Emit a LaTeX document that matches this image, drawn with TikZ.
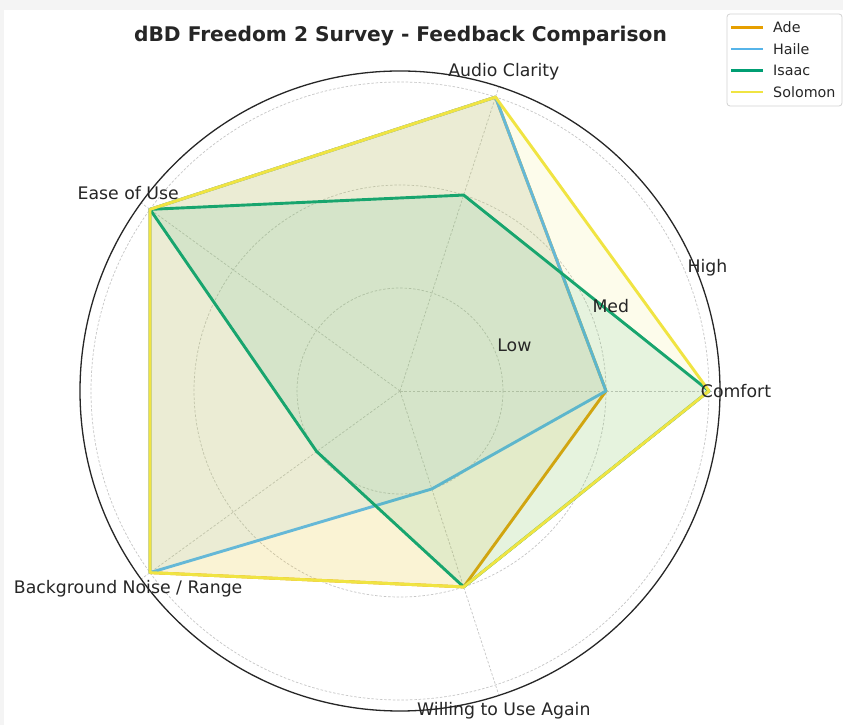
\documentclass[tikz,border=0pt]{standalone}
\usepackage{fontspec}
\setmainfont{DejaVu Sans}
\definecolor{ade}{HTML}{E69F00}
\definecolor{haile}{HTML}{56B4E9}
\definecolor{isaac}{HTML}{009E73}
\definecolor{solomon}{HTML}{F0E442}
\definecolor{txt}{HTML}{262626}
\tikzset{
  gridline/.style={draw=gray!45, line width=0.7pt, dash pattern=on 2.5pt off 1.8pt},
  series/.style={draw=#1, fill=#1, fill opacity=0.1, draw opacity=1, line width=2.9pt, line join=round},
  axislabel/.style={font=\fontsize{17.3}{20}\selectfont, text=txt, anchor=center, inner sep=0pt},
  rlabel/.style={font=\fontsize{17.3}{20}\selectfont, text=txt, anchor=base west, inner sep=0pt},
  legtext/.style={font=\fontsize{14.3}{16}\selectfont, text=txt, anchor=west, inner sep=0pt},
  legline/.style={draw=#1, line width=2.6pt}
}
\begin{document}
\begin{tikzpicture}[x=1pt,y=1pt]
\useasboundingbox (0,0) rectangle (843,725);
\fill[white] (0,0) rectangle (843,725);
\fill[gray!9] (0,715) rectangle (843,725);
\fill[gray!9] (0,0) rectangle (4,725);

\node[font=\bfseries\fontsize{20.2}{24}\selectfont, text=txt] (title) at (400.5,689) {dBD Freedom 2 Survey - Feedback Comparison};

\begin{scope}[shift={(400,334)}]
  \coordinate (c) at (0,0);
  % grid
  \foreach \r in {103,206,309} \draw[gridline] (c) circle[radius=\r];
  \foreach \a in {0,72,144,216,288} \draw[gridline] (c) -- (\a:320);
  % series
  \path[series=ade] (0:206) -- (72:309) -- (144:309) -- (216:309) -- (288:206) -- cycle;
  \path[series=haile] (0:206) -- (72:309) -- (144:309) -- (216:309) -- (288:103) -- cycle;
  \path[series=isaac] (0:309) -- (72:206) -- (144:309) -- (216:103) -- (288:206) -- cycle;
  \path[series=solomon] (0:309) -- (72:309) -- (144:309) -- (216:309) -- (288:206) -- cycle;
  % spine
  \draw[line width=1.3pt, draw=txt] (c) circle[radius=320];
  % radial labels
  \node[rlabel] (low) at ([xshift=2pt]22.5:103) {Low};
  \node[rlabel] (med) at ([xshift=2pt]22.5:206) {Med};
  \node[rlabel] (high) at ([xshift=2pt]22.5:309) {High};
  % axis labels
  \node[axislabel] (comfort) at (0:336) {Comfort};
  \node[axislabel] (audio) at (72:336) {Audio Clarity};
  \node[axislabel] (ease) at (144:336) {Ease of Use};
  \node[axislabel] (bg) at (216:336) {Background Noise / Range};
  \node[axislabel] (will) at (288:336) {Willing to Use Again};
\end{scope}

% legend
\draw[draw=gray!35, fill=white, line width=0.8pt, rounded corners=3pt] (727,619) rectangle (842,711);
\coordinate (l1a) at (731,697.5); \coordinate (l1b) at (763,697.5);
\coordinate (l2a) at (731,676);   \coordinate (l2b) at (763,676);
\coordinate (l3a) at (731,654.5); \coordinate (l3b) at (763,654.5);
\coordinate (l4a) at (731,633);   \coordinate (l4b) at (763,633);
\draw[legline=ade] (l1a) -- (l1b);
\draw[legline=haile] (l2a) -- (l2b);
\draw[legline=isaac] (l3a) -- (l3b);
\draw[legline=solomon] (l4a) -- (l4b);
\node[legtext] (tade) at (773,697.5) {Ade};
\node[legtext] (thaile) at (773,676) {Haile};
\node[legtext] (tisaac) at (773,654.5) {Isaac};
\node[legtext] (tsol) at (773,633) {Solomon};
\end{tikzpicture}
\end{document}
